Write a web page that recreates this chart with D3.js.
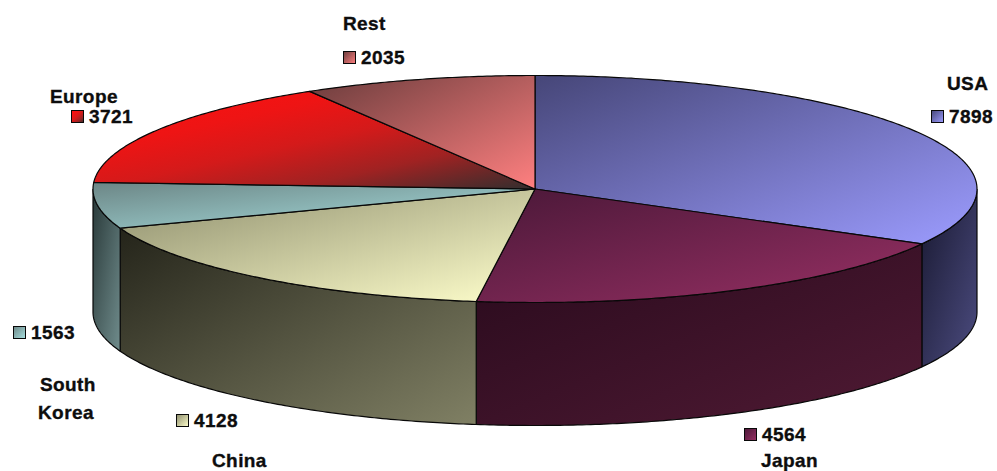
<!DOCTYPE html>
<html>
<head>
<meta charset="utf-8">
<script src="https://cdn.jsdelivr.net/npm/d3@7"></script>
<style>
html,body{margin:0;padding:0;background:#fff;overflow:hidden}
text{font-family:"Liberation Sans",Arial,sans-serif;font-weight:bold;font-size:19px;fill:#0d0d0d;stroke:#0d0d0d;stroke-width:.35px;letter-spacing:.4px}
</style>
</head>
<body>
<svg id="chart" width="997" height="471"></svg>
<script>
// Data
const categories = ["USA","Japan","China","South Korea","Europe","Rest"];
const values = [7898,4564,4128,1563,3721,2035];
// Colours
const topStart = ["#464678","#4a1838","#8c8c6c","#6c8686","#ff1010","#6a3c3c"];
const topEnd   = ["#9c9cff","#983064","#ffffcc","#a8e0e0","#302e2e","#ff8080"];
const topMid   = [null,null,null,null,[[.3,"#ee1414"],[.5,"#d41a1a"],[.72,"#a02222"]],null];
const sideStart = ["#181830","#280a1c","#24241a","#283838"];
const sideEnd   = ["#4c4c80","#501a34","#808064","#708c8c"];
const edgeColor = "#080808";
// Label layout (separate from the data)
const nameLines = [["USA"],["Japan"],["China"],["South","Korea"],["Europe"],["Rest"]];
const namePos = [[[947,90]],[[761,467]],[[212,467]],[[40,391],[38,419]],[[50,103]],[[343,30]]];
const valuePos = [[931,110],[744,428],[176,414],[13,326],[71,110],[343,51]];

const W = 997, H = 471, cx = 535, cy = 189, rx = 442, ry = 113.5, depth = 123;
const svg = d3.select("#chart");
const defs = svg.append("defs");
const grad = (id,a,b,mid)=>{
  const g = defs.append("linearGradient").attr("id",id)
    .attr("x1",0).attr("y1",0).attr("x2",1).attr("y2",1);
  g.append("stop").attr("offset",0).attr("stop-color",a);
  (mid||[]).forEach(m=>g.append("stop").attr("offset",m[0]).attr("stop-color",m[1]));
  g.append("stop").attr("offset",1).attr("stop-color",b);
};
values.forEach((v,i)=>grad("t"+i,topStart[i],topEnd[i],topMid[i]));
sideStart.forEach((c,i)=>grad("s"+i,c,sideEnd[i]));

const pie = d3.pie().sort(null).startAngle(0).endAngle(2*Math.PI);
const arcs = pie(values);
const px = d3.scaleLinear().domain([-1,1]).range([cx-rx,cx+rx]);
const py = d3.scaleLinear().domain([-1,1]).range([cy-ry,cy+ry]);
const point = (a,dy=0)=>[px(Math.sin(a)),py(-Math.cos(a))+dy];
const line = d3.line();
const samples = (a0,a1)=>{
  const n = Math.max(2,Math.ceil((a1-a0)/0.01));
  return d3.range(n+1).map(k=>a0+(a1-a0)*k/n);
};

const g = svg.append("g");
// Sides: the front half of the rim only
const PI = Math.PI;
arcs.forEach((d,i)=>{
  const a0 = Math.max(d.startAngle,PI/2), a1 = Math.min(d.endAngle,3*PI/2);
  if(a1<=a0) return;
  const s = samples(a0,a1);
  const outline = s.map(a=>point(a)).concat(s.slice().reverse().map(a=>point(a,depth)));
  g.append("path").attr("d",line(outline)+"Z")
    .attr("fill",`url(#s${i})`).attr("stroke",edgeColor).attr("stroke-width",1.2);
});
// Top face
arcs.forEach((d,i)=>{
  const outline = [[cx,cy]].concat(samples(d.startAngle,d.endAngle).map(a=>point(a)));
  g.append("path").attr("d",line(outline)+"Z")
    .attr("fill",`url(#t${i})`).attr("stroke",edgeColor).attr("stroke-width",1.2)
    .attr("stroke-linejoin","round");
});
// Labels
const labels = svg.append("g");
categories.forEach((c,i)=>{
  nameLines[i].forEach((t,k)=>{
    labels.append("text").attr("x",namePos[i][k][0]).attr("y",namePos[i][k][1]).text(t);
  });
  const [mx,my] = valuePos[i];
  labels.append("rect").attr("x",mx+.5).attr("y",my+.5).attr("width",12).attr("height",12)
    .attr("fill",`url(#t${i})`).attr("stroke",edgeColor);
  labels.append("text").attr("x",mx+18).attr("y",my+12.5).text(values[i]);
});
</script>
</body>
</html>
